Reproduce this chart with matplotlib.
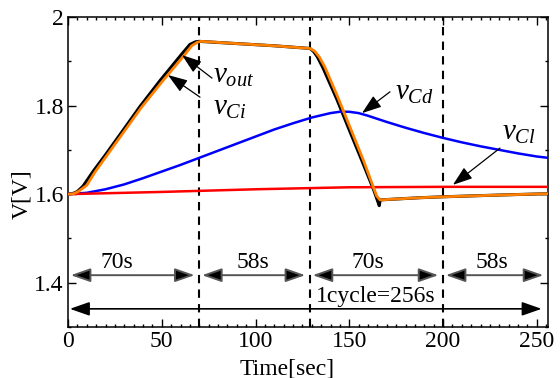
import numpy as np
import matplotlib
matplotlib.use('agg')
import matplotlib.pyplot as plt
from matplotlib.ticker import MultipleLocator

plt.rcParams['font.family'] = ['Liberation Serif', 'DejaVu Serif']
plt.rcParams['mathtext.fontset'] = 'custom'
plt.rcParams['mathtext.rm'] = 'Liberation Serif'
plt.rcParams['mathtext.it'] = 'Liberation Serif:italic'

# v_out (black)
t_out = [0, 3, 5, 8, 13.5, 20, 30, 38.4, 49, 60.6, 65, 68, 70, 90, 110, 129,
         131, 133, 136, 143.3, 150, 156.6, 163, 166, 166.5, 188, 200, 230, 256]
v_out = [1.600, 1.602, 1.606, 1.618, 1.652, 1.689, 1.748, 1.798, 1.856, 1.916, 1.938, 1.944, 1.945, 1.940, 1.935, 1.929,
         1.922, 1.910, 1.885, 1.815, 1.745, 1.677, 1.610, 1.574, 1.587, 1.592, 1.594, 1.598, 1.601]

# v_Ci (orange)
t_ci = [0, 3, 5.5, 10, 14.4, 20, 30, 39, 50, 61.5, 66, 69, 71, 90, 110, 129,
        131.5, 134, 137, 144, 151, 157.5, 164.6, 166.4, 188, 200, 230, 256]
v_ci = [1.600, 1.601, 1.606, 1.620, 1.650, 1.683, 1.742, 1.795, 1.853, 1.911, 1.935, 1.943, 1.945, 1.940, 1.935, 1.929,
        1.923, 1.910, 1.887, 1.818, 1.745, 1.677, 1.596, 1.587, 1.592, 1.594, 1.598, 1.601]

# v_Cd (blue)
t_cd = [0, 10, 20, 30, 40, 50, 60, 70, 80, 90, 100, 110, 120, 130, 140, 145, 150,
        155, 160, 170, 180, 190, 200, 210, 220, 230, 240, 250, 256]
v_cd = [1.600, 1.603, 1.611, 1.622, 1.636, 1.651, 1.666, 1.682, 1.698, 1.714, 1.730, 1.746, 1.760, 1.773, 1.783, 1.786, 1.786,
        1.783, 1.777, 1.763, 1.750, 1.738, 1.727, 1.717, 1.708, 1.700, 1.692, 1.685, 1.682]

# v_Cl (red)
t_cl = [0, 50, 100, 150, 200, 256]
v_cl = [1.600, 1.605, 1.611, 1.6155, 1.6165, 1.6165]

phase_edges = [0, 70, 129, 200, 256]
phase_labels = ['70s', '58s', '70s', '58s']
label_x = [26, 98.4, 160, 226]

fig = plt.figure(figsize=(5.6, 3.78), dpi=100)
ax = fig.add_axes([68/560, 1-327/378, 480/560, 310/378])

for x in phase_edges[1:-1]:
    ax.axvline(x, color='k', ls=(0, (4, 3)), lw=1.5, zorder=1)

ax.plot(t_out, v_out, color='k', lw=2.2, zorder=3)
ax.plot(t_ci, v_ci, color='#ff8000', lw=2.0, zorder=4)
ax.plot(t_cd, v_cd, color='#0000ff', lw=1.8, zorder=3)
ax.plot(t_cl, v_cl, color='#ff0000', lw=1.8, zorder=3)

arr = dict(arrowstyle='<|-|>,head_length=0.8,head_width=0.28', mutation_scale=15,
           shrinkA=0, shrinkB=0, lw=1.4)
for i in range(4):
    ax.annotate('', xy=(phase_edges[i] + 1.5, 1.417), xytext=(phase_edges[i+1] - 2.5, 1.417),
                arrowprops=dict(arr, fc='k', ec='#555555'))
    ax.text(label_x[i], 1.445, phase_labels[i], fontsize=17, ha='center', va='center')

ax.annotate('', xy=(1, 1.341), xytext=(252.6, 1.341), arrowprops=dict(arr, fc='k', ec='k', lw=1.2))
ax.text(164, 1.368, '1cycle=256s', fontsize=17, ha='center', va='center')

one = dict(arrowstyle='-|>,head_length=0.8,head_width=0.28', mutation_scale=15,
           shrinkA=0, shrinkB=0, lw=0.9, color='k')
notes = [(r'$v_{out}$', (60.8, 1.914), (76.8, 1.862), (77.5, 1.851)),
         (r'$v_{Ci}$', (53.3, 1.869), (70.4, 1.819), (77.3, 1.779)),
         (r'$v_{Cd}$', (156.8, 1.783), (171.7, 1.831), (174.4, 1.813)),
         (r'$v_{Cl}$', (205.3, 1.621), (230.4, 1.704), (231.3, 1.722))]
for s, tip, tail, pos in notes:
    ax.annotate('', xy=tip, xytext=tail, arrowprops=one, zorder=5)
    ax.text(pos[0], pos[1], s, fontsize=21, ha='left', va='baseline')

ax.set_xlim(0, 256)
ax.set_ylim(1.3, 2.0)
ax.set_xticks([0, 50, 100, 150, 200, 250])
ax.set_yticks([1.4, 1.6, 1.8, 2.0])
ax.set_yticklabels(['1.4', '1.6', '1.8', '2'])
ax.xaxis.set_minor_locator(MultipleLocator(5))
ax.yaxis.set_minor_locator(MultipleLocator(0.1))
ax.tick_params(which='both', direction='in', top=True, right=True, labelsize=17, pad=3, width=1)
ax.tick_params(which='major', length=5.5)
ax.tick_params(which='minor', length=2.5)
for sp in ax.spines.values():
    sp.set_linewidth(1.1)

ax.set_xlabel('Time[sec]', fontsize=17)
ax.xaxis.set_label_coords(0.457, -0.1)
ax.set_ylabel('V[V]', fontsize=17)
ax.yaxis.set_label_coords(-0.075, 0.43)

plt.savefig('out.png', dpi=100)
